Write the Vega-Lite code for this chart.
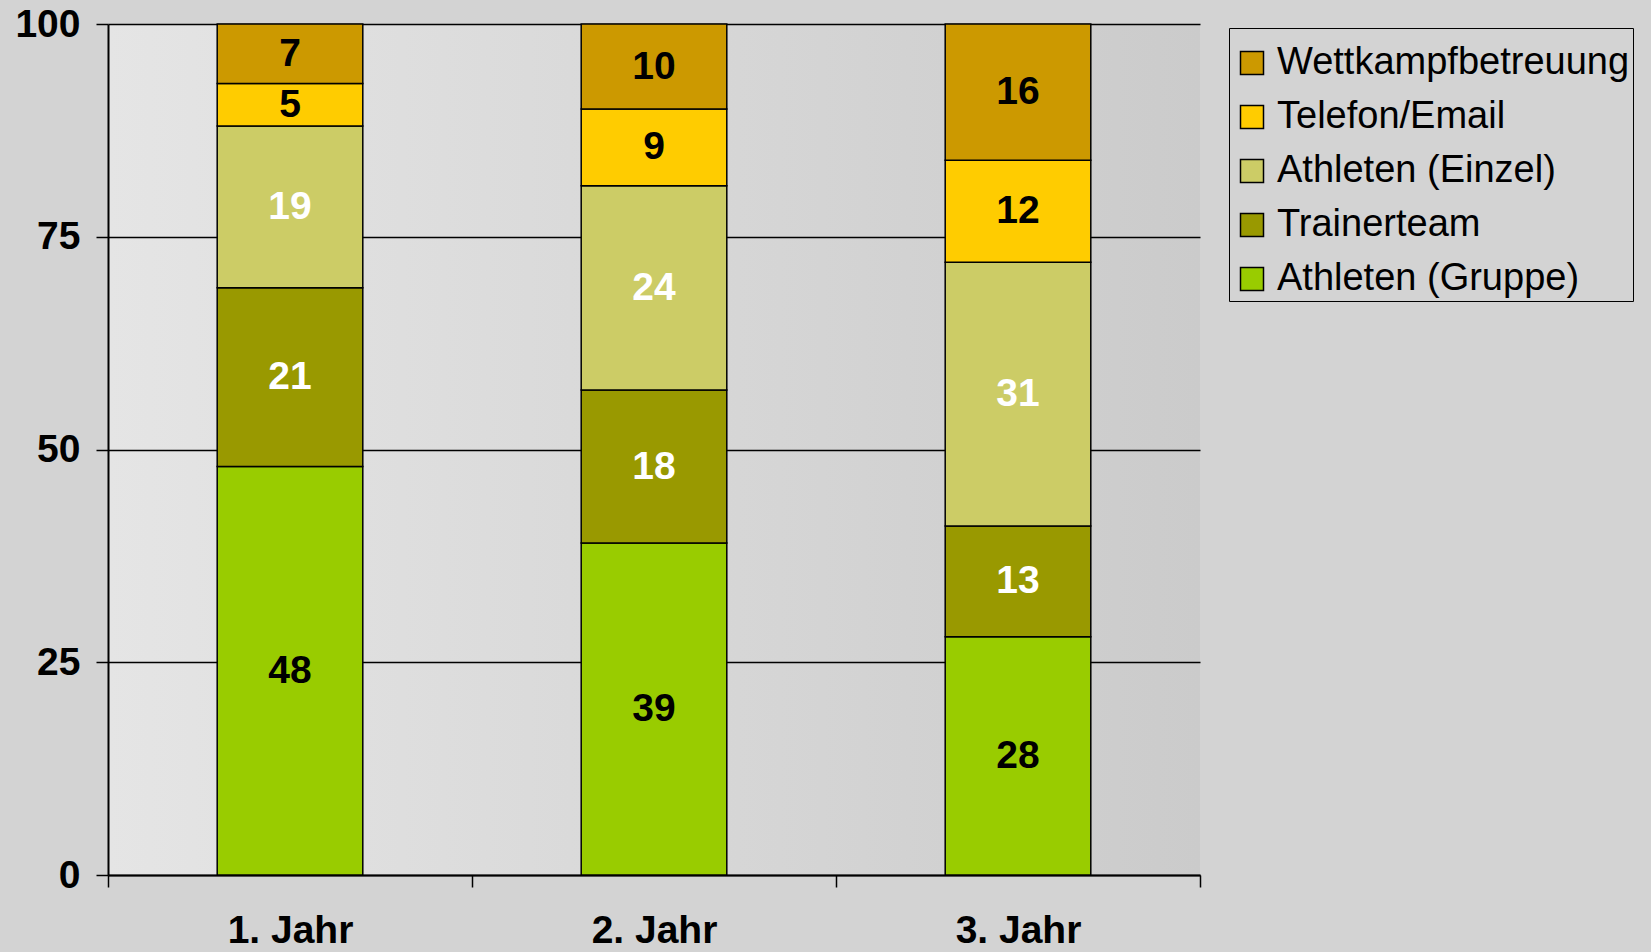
{
  "$schema": "https://vega.github.io/schema/vega-lite/v6.json",
  "autosize": {"type": "none"},
  "width": 1092,
  "height": 851,
  "padding": {"left": 108, "top": 24, "right": 451, "bottom": 77},
  "background": "#d3d3d3",
  "config": {
    "view": {
      "stroke": null,
      "fill": {"gradient": "linear", "x1": 0, "y1": 0, "x2": 1, "y2": 0,
        "stops": [{"offset": 0, "color": "#e5e5e5"}, {"offset": 1, "color": "#cbcbcb"}]}
    },
    "font": "Liberation Sans"
  },
  "data": {
    "values": [
      {"jahr": "1. Jahr", "cat": "Athleten (Gruppe)", "v": 48},
      {"jahr": "1. Jahr", "cat": "Trainerteam", "v": 21},
      {"jahr": "1. Jahr", "cat": "Athleten (Einzel)", "v": 19},
      {"jahr": "1. Jahr", "cat": "Telefon/Email", "v": 5},
      {"jahr": "1. Jahr", "cat": "Wettkampfbetreuung", "v": 7},
      {"jahr": "2. Jahr", "cat": "Athleten (Gruppe)", "v": 39},
      {"jahr": "2. Jahr", "cat": "Trainerteam", "v": 18},
      {"jahr": "2. Jahr", "cat": "Athleten (Einzel)", "v": 24},
      {"jahr": "2. Jahr", "cat": "Telefon/Email", "v": 9},
      {"jahr": "2. Jahr", "cat": "Wettkampfbetreuung", "v": 10},
      {"jahr": "3. Jahr", "cat": "Athleten (Gruppe)", "v": 28},
      {"jahr": "3. Jahr", "cat": "Trainerteam", "v": 13},
      {"jahr": "3. Jahr", "cat": "Athleten (Einzel)", "v": 31},
      {"jahr": "3. Jahr", "cat": "Telefon/Email", "v": 12},
      {"jahr": "3. Jahr", "cat": "Wettkampfbetreuung", "v": 16}
    ]
  },
  "transform": [
    {"calculate": "indexof(['Athleten (Gruppe)','Trainerteam','Athleten (Einzel)','Telefon/Email','Wettkampfbetreuung'], datum.cat)", "as": "rank"},
    {"stack": "v", "groupby": ["jahr"], "sort": [{"field": "rank", "order": "ascending"}], "as": ["y0", "y1"]},
    {"calculate": "(datum.y0 + datum.y1) / 2", "as": "ymid"}
  ],
  "encoding": {
    "x": {
      "field": "jahr", "type": "nominal",
      "scale": {"paddingInner": 0, "paddingOuter": 0},
      "axis": {
        "title": null, "labelAngle": 0, "tickBand": "extent",
        "tickSize": 12, "tickWidth": 1.5, "tickColor": "black",
        "domainColor": "black", "domainWidth": 2,
        "labelFont": "Liberation Sans", "labelFontWeight": "bold", "labelFontSize": 39,
        "labelColor": "black", "labelPadding": 24
      }
    }
  },
  "layer": [
    {
      "mark": {"type": "bar", "stroke": "black", "strokeWidth": 1.5, "width": {"band": 0.4}},
      "encoding": {
        "y": {
          "field": "y0", "type": "quantitative",
          "scale": {"domain": [0, 100], "nice": false},
          "axis": {
            "title": null, "values": [0, 25, 50, 75, 100],
            "grid": true, "gridColor": "black", "gridWidth": 1.5, "gridOpacity": 1,
            "tickSize": 12, "tickWidth": 1.5, "tickColor": "black",
            "domainColor": "black", "domainWidth": 2,
            "labelFont": "Liberation Sans", "labelFontWeight": "bold", "labelFontSize": 39,
            "labelColor": "black", "labelPadding": 16
          }
        },
        "y2": {"field": "y1"},
        "color": {
          "field": "cat", "type": "nominal",
          "scale": {
            "domain": ["Wettkampfbetreuung", "Telefon/Email", "Athleten (Einzel)", "Trainerteam", "Athleten (Gruppe)"],
            "range": ["#CC9900", "#FFCC00", "#CCCC66", "#999900", "#99CC00"]
          },
          "legend": {
            "title": " ", "titleFontSize": 4, "titlePadding": 9,
            "orient": "none", "legendX": 1121, "legendY": 4,
            "symbolType": "square", "symbolSize": 529, "symbolStrokeColor": "black", "symbolStrokeWidth": 1.5,
            "symbolOpacity": 1, "symbolOffset": 1,
            "labelFont": "Liberation Sans", "labelFontSize": 38, "labelColor": "black", "labelLimit": 600,
            "labelOffset": 6, "rowPadding": 16, "padding": 3,
            "strokeColor": "black"
          }
        }
      }
    },
    {
      "mark": {"type": "text", "font": "Liberation Sans", "fontWeight": "bold", "fontSize": 39, "baseline": "middle", "align": "center"},
      "encoding": {
        "y": {"field": "ymid", "type": "quantitative"},
        "text": {"field": "v", "type": "quantitative"},
        "color": {
          "condition": {"test": "datum.cat === 'Trainerteam' || datum.cat === 'Athleten (Einzel)'", "value": "white"},
          "value": "black"
        }
      }
    }
  ]
}
